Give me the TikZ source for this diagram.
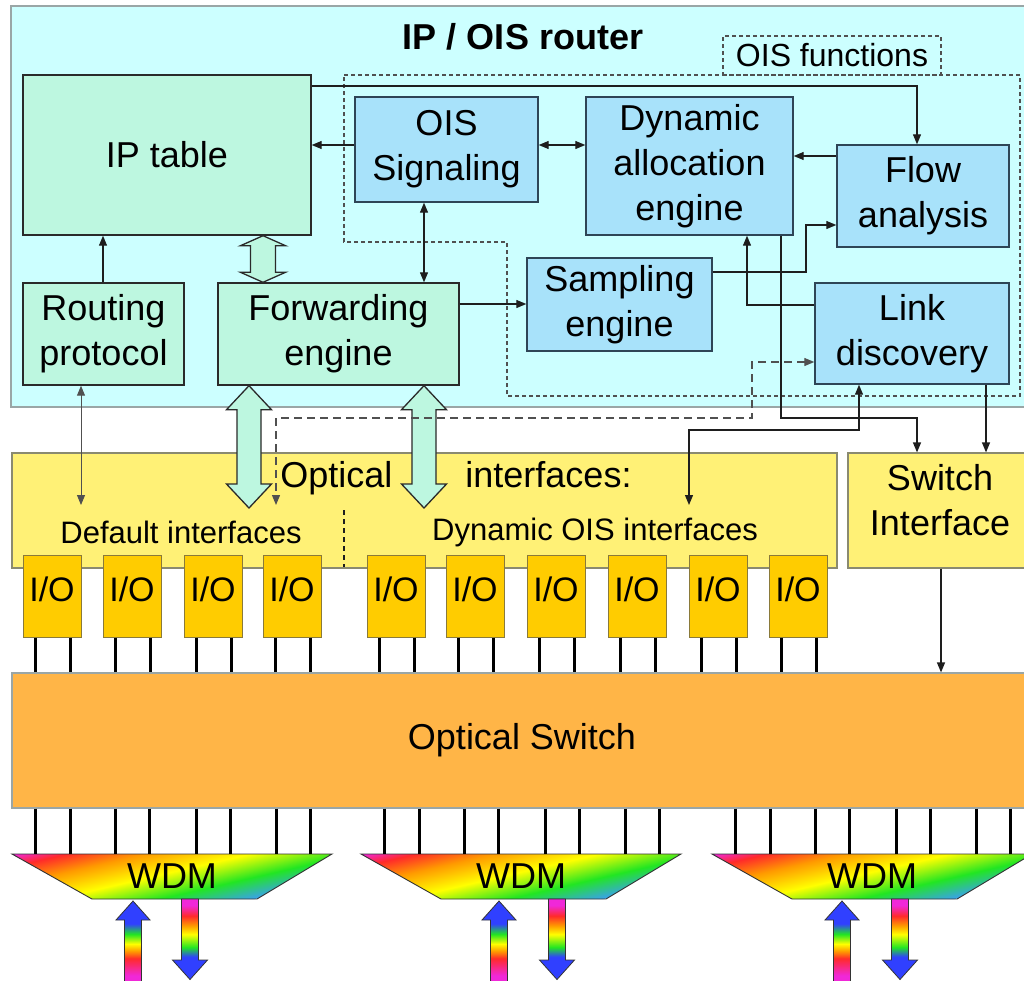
\documentclass[tikz,border=0pt]{standalone}
\usepackage{fontspec}
\setmainfont{Liberation Sans}
\usetikzlibrary{arrows.meta,calc}

% palette
\definecolor{routercyan}{HTML}{CCFFFF}
\definecolor{routerline}{HTML}{9AA6A6}
\definecolor{mint}{HTML}{BDF7E0}
\definecolor{oisblue}{HTML}{A8E2FA}
\definecolor{boxline}{HTML}{2A2A2A}
\definecolor{blueline}{HTML}{2E4556}
\definecolor{ifyellow}{HTML}{FFF176}
\definecolor{yline}{HTML}{8A8A70}
\definecolor{iogold}{HTML}{FFCC00}
\definecolor{ioline}{HTML}{8A7A3A}
\definecolor{switchorange}{HTML}{FFB547}
\definecolor{lineink}{HTML}{1E1E1E}
\definecolor{dashink}{HTML}{505050}
\definecolor{rbMag}{HTML}{F028D8}
\definecolor{rbRed}{HTML}{FF2A2A}
\definecolor{rbOrange}{HTML}{FF9A00}
\definecolor{rbYellow}{HTML}{FFFF00}
\definecolor{rbGreen}{HTML}{22E622}
\definecolor{rbBlue}{HTML}{3040FF}
\definecolor{rbSky}{HTML}{3AA0F0}
\definecolor{rbEdge}{HTML}{333333}

% rainbow gradients (central 25bp..75bp span the shaded path)
\pgfdeclarehorizontalshading{wdmrainbow}{100bp}{color(0bp)=(rbMag); color(25bp)=(rbMag); color(31bp)=(rbRed); color(40bp)=(rbOrange); color(52bp)=(rbYellow); color(64bp)=(rbGreen); color(75bp)=(rbSky); color(100bp)=(rbSky)}
\pgfdeclareverticalshading{rbup}{100bp}{color(0bp)=(rbMag); color(29bp)=(rbMag); color(39.5bp)=(rbRed); color(44bp)=(rbOrange); color(48.5bp)=(rbYellow); color(54.5bp)=(rbGreen); color(61bp)=(rbBlue); color(100bp)=(rbBlue)}
\pgfdeclareverticalshading{rbdown}{100bp}{color(0bp)=(rbBlue); color(39bp)=(rbBlue); color(45bp)=(rbGreen); color(53bp)=(rbYellow); color(58.5bp)=(rbOrange); color(64.5bp)=(rbRed); color(71bp)=(rbMag); color(100bp)=(rbMag)}

% hollow vertical double arrow between two points: top, bottom, head half-width, shaft half-width, head length
\newcommand{\blockarrowv}[5]{%
  \path[blockarrow] let \p1=(#1), \p2=(#2) in
    (\x1,\y1) -- (\x1+#3pt,\y1-#5pt) -- (\x1+#4pt,\y1-#5pt) -- (\x1+#4pt,\y2+#5pt)
    -- (\x1+#3pt,\y2+#5pt) -- (\x1,\y2) -- (\x1-#3pt,\y2+#5pt) -- (\x1-#4pt,\y2+#5pt)
    -- (\x1-#4pt,\y1-#5pt) -- (\x1-#3pt,\y1-#5pt) -- cycle;}

\tikzset{
  routerbox/.style={draw=routerline, fill=routercyan, line width=1.5pt, inner sep=0pt},
  box/.style={draw=boxline, line width=1.4pt, inner sep=0pt, align=center},
  mintbox/.style={box, fill=mint},
  bluebox/.style={box, fill=oisblue, draw=blueline},
  ifbox/.style={draw=yline, fill=ifyellow, line width=1.2pt, inner sep=0pt, align=center},
  iobox/.style={draw=ioline, fill=iogold, line width=1pt, minimum width=58pt, minimum height=82pt,
    inner sep=0pt, text height=25pt, text depth=14pt, font=\fontsize{34}{40}\selectfont},
  oswbox/.style={draw=routerline, fill=switchorange, line width=1.2pt, inner sep=0pt},
  oisdash/.style={draw=dashink, line width=1.1pt, dash pattern=on 4pt off 3pt},
  smalllabel/.style={inner sep=0pt, font=\fontsize{31}{36}\selectfont},
  arr/.style={draw=lineink, line width=1.2pt, ->},
  arrtwo/.style={draw=lineink, line width=1.2pt, <->},
  dashlink/.style={draw=dashink, dash pattern=on 8pt off 5pt},
  greylink/.style={draw=dashink, line width=1pt},
  wire/.style={draw=black, line width=3pt},
  blockarrow/.style={draw=boxline, fill=mint, line width=1.3pt, line join=miter},
  wdmedge/.style={draw=rbEdge, line width=0.9pt},
  wdmlabel/.style={inner sep=0pt, font=\fontsize{36}{40}\selectfont},
  rbarrow/.style={draw=rbEdge, line width=0.8pt},
}

\begin{document}
\begin{tikzpicture}[x=1pt, y=-1pt, font=\fontsize{36}{45}\selectfont,
  >={Triangle[length=10pt,width=8pt]}]
\useasboundingbox (0,0) rectangle (1024,980);
\clip (0,0) rectangle (1024,980);
\fill[white] (0,0) rectangle (1024,980);

% router enclosure
\node[routerbox, minimum width=1030pt, minimum height=401pt] (router) at (526,206.5) {};
\node[font=\bfseries\fontsize{36}{40}\selectfont, inner sep=0pt] (title) at (523,37) {IP / OIS router};

% OIS functions region
\draw[oisdash] (344,75) -- (1020,75) -- (1020,396) -- (507,396) -- (507,242) -- (344,242) -- cycle;
\node[oisdash, minimum width=218pt, minimum height=39pt, inner sep=0pt,
      font=\fontsize{32}{36}\selectfont] (oisfn) at (832,55.5) {OIS functions};

% router blocks
\node[mintbox, minimum width=288pt, minimum height=160pt] (iptable) at (167,155) {IP table};
\node[mintbox, minimum width=161pt, minimum height=102pt] (routing) at (103.5,334) {Routing\\protocol};
\node[mintbox, minimum width=241pt, minimum height=102pt] (fwd) at (338.5,334) {Forwarding\\engine};
\node[bluebox, minimum width=183pt, minimum height=105pt] (ois) at (446.5,149.5) {OIS\\Signaling};
\node[bluebox, minimum width=207pt, minimum height=138pt] (dyn) at (689.5,166) {Dynamic\\allocation\\engine};
\node[bluebox, minimum width=172pt, minimum height=102pt] (flow) at (923,196) {Flow\\analysis};
\node[bluebox, minimum width=185pt, minimum height=93pt] (samp) at (619.5,304.5) {Sampling\\engine};
\node[bluebox, minimum width=194pt, minimum height=101pt] (link) at (912,333.5) {Link\\discovery};

% interfaces and switch
\node[ifbox, minimum width=825pt, minimum height=115pt] (optif) at (424.5,510.5) {};
\node[ifbox, minimum width=184pt, minimum height=115pt, text depth=22pt] (swif) at (940,510.5) {Switch\\Interface};
\node[oswbox, minimum width=1020pt, minimum height=135pt] (osw) at (522,740.5) {Optical Switch};

\node[inner sep=0pt] (optlbl) at (456,478) {Optical\hspace{73pt}interfaces:};
\node[smalllabel] (deflbl) at (181,532) {Default interfaces};
\node[smalllabel] (dynlbl) at (595,532) {Dynamic OIS interfaces};
\draw[draw=lineink, line width=1.1pt, dash pattern=on 5pt off 4pt] (344,510) -- (344,567);

% I/O ports and their fibres into the switch
\foreach \cx [count=\i] in {52,132,213,292,396,475,556,637,718,798} {
  \node[iobox] (io\i) at (\cx,596) {I/O};
  \draw[wire] (\cx-17,0 |- io\i.south) -- (\cx-17,0 |- osw.north);
  \draw[wire] (\cx+18,0 |- io\i.south) -- (\cx+18,0 |- osw.north);
}

% WDM multiplexers
\foreach \L [count=\k] in {12,361,712} {
  \begin{scope}
    \clip (\L,854) -- (\L+320,854) -- (\L+245,899) -- (\L+80,899) -- cycle;
    \shade[shading=wdmrainbow, transform canvas={shift={(\L+160,876)}, rotate=-77}]
      (-57,-220) rectangle (41,220);
  \end{scope}
  \draw[wdmedge] (\L,854) -- (\L+320,854) -- (\L+245,899) -- (\L+80,899) -- cycle;
  \node[wdmlabel, minimum width=320pt, minimum height=45pt] (wdm\k) at (\L+160,876.5) {WDM};
  \foreach \o in {23,58,103,137,184,218,264,298}
    \draw[wire] (\L+\o,0 |- osw.south) -- (\L+\o,0 |- wdm\k.north);
}

% coloured in/out fibres
\foreach \ux/\dx in {133/190, 499/557, 842/900} {
  \shade[shading=rbup, rbarrow] (\ux,901) -- (\ux+17,920) -- (\ux+8.5,920) -- (\ux+8.5,982)
    -- (\ux-8.5,982) -- (\ux-8.5,920) -- (\ux-17,920) -- cycle;
  \shade[shading=rbdown, rbarrow] (\dx-8.5,899) -- (\dx+8.5,899) -- (\dx+8.5,960) -- (\dx+17.5,960)
    -- (\dx,979.5) -- (\dx-17.5,960) -- (\dx-8.5,960) -- cycle;
}

% wide data paths
\coordinate (fio1) at (249,508);
\coordinate (fio2) at (424,508);
\blockarrowv{263,0 |- iptable.south}{263,0 |- fwd.north}{22.5}{12.5}{10}
\blockarrowv{249,0 |- fwd.south}{fio1}{22.5}{12}{24}
\blockarrowv{424,0 |- fwd.south}{fio2}{22.5}{12}{24}

% control connectors
\draw[arr] (ois.west |- 0,145) -- (iptable.east |- 0,145);
\draw[arr] (routing.north -| 103,0) -- (103,0 |- iptable.south);
\draw[arrtwo] (ois.south -| 424,0) -- (fwd.north -| 424,0);
\draw[arrtwo] (ois.east |- 0,145) -- (dyn.west |- 0,145);
\draw[arr] (flow.west |- 0,156) -- (dyn.east |- 0,156);
\draw[arr] (iptable.east |- 0,86) -| (flow.north -| 917,0);
\draw[arr] (fwd.east |- 0,304) -- (samp.west |- 0,304);
\draw[arr] (samp.east |- 0,272) -| (806,225) -- (flow.west |- 0,225);
\draw[arr] (link.west |- 0,305) -| (dyn.south -| 747,0);
\draw[arr] (dyn.south -| 781,0) |- (917,418) -- (swif.north -| 917,0);
\draw[arr] (link.south -| 986,0) -- (swif.north -| 986,0);
\coordinate (dynin) at (689,505);
\draw[arrtwo] (dynin) |- (859,430) -- (link.south -| 859,0);
\coordinate (defin) at (276,505);
\draw[arrtwo, dashlink] (link.west |- 0,362) -| (752,418) -| (defin);
\coordinate (routin) at (81,505);
\draw[arrtwo, greylink] (routing.south -| 81,0) -- (routin);
\draw[arr] (swif.south -| 941,0) -- (osw.north -| 941,0);

\end{tikzpicture}
\end{document}
